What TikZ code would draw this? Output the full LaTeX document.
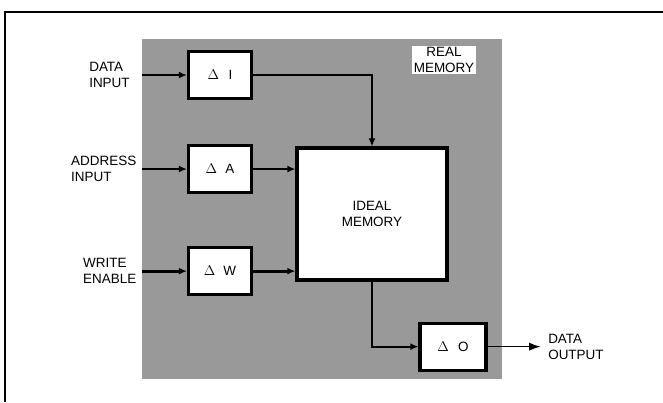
\documentclass[tikz,border=0pt]{standalone}
\usepackage{fontspec}
\setsansfont{Liberation Sans}
\usetikzlibrary{arrows.meta,positioning}

\begin{document}
\begin{tikzpicture}[
  every node/.style = {font=\sffamily\fontsize{11.5}{13.5}\selectfont},
  block/.style = {rectangle, draw=black, line width=2.6pt, fill=white,
    minimum width=18.9mm, minimum height=14.1mm, inner sep=1pt, align=center},
  memblock/.style = {block, minimum width=45mm, minimum height=39.6mm},
  realmem/.style = {rectangle, fill=black!40, inner sep=0pt,
    minimum width=108mm, minimum height=102mm},
  lbl/.style = {align=left, inner sep=1pt},
  arr/.style = {-{Latex[length=7pt,width=6pt]}, line width=2.4pt},
  thin_arr/.style = {-{Latex[length=10pt,width=7pt]}, line width=1.3pt}
]
\useasboundingbox (0,0) rectangle (19.89,-12.06);
\draw[line width=1.4pt] (0.15,-12.06) -- (0.15,-0.36) -- (19.89,-0.36);

\node[realmem] (real) at (9.66,-6.27) {};
\node[fill=white, align=center, inner sep=1.5pt] (reallbl) at (13.32,-1.8) {REAL\\MEMORY};

\node[block]                    (di)  at (6.6,-2.25) {$\Delta$\hspace{8pt}I};
\node[block, below=13.2mm of di] (da)  {$\Delta$\hspace{7pt}A};
\node[block, below=15.6mm of da] (dw)  {$\Delta$\hspace{7pt}W};
\node[memblock]                 (mem) at (11.16,-6.42) {IDEAL\\MEMORY};
\node[block, minimum width=19.8mm] (do) at (13.59,-10.4) {$\Delta$\hspace{8pt}O};

\coordinate (din) at (real.west |- di);
\coordinate (ain) at (real.west |- da);
\coordinate (win) at (real.west |- dw);
\coordinate[right=16mm of do] (dout);

\node[lbl, left=3.2mm of din]  (dinlbl)  {DATA\\INPUT};
\node[lbl, left=1.2mm of ain]  (ainlbl)  {ADDRESS\\INPUT};
\node[lbl, left=1.2mm of win]  (winlbl)  {WRITE\\ENABLE};
\node[lbl, right=1.8mm of dout] (doutlbl) {DATA\\OUTPUT};

\draw[arr] (din) -- (di);
\draw[arr] (ain) -- (da);
\draw[arr] (win) -- (dw);
\draw[arr] (di) -| (mem);
\draw[arr] (da) -- (mem.west |- da);
\draw[arr] (dw) -- (mem.west |- dw);
\draw[arr, line width=1.9pt] (mem) |- (do);
\draw[thin_arr] (do) -- (dout);
\end{tikzpicture}
\end{document}
